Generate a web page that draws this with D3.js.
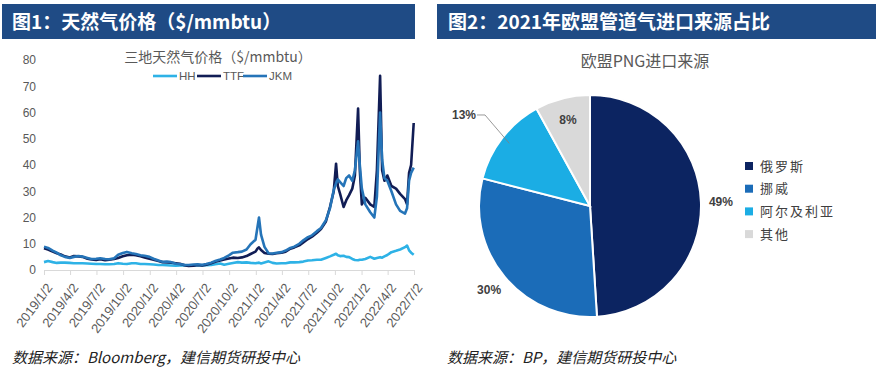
<!DOCTYPE html>
<html>
<head>
<meta charset="utf-8">
<script src="https://cdn.jsdelivr.net/npm/d3@7"></script>
<style>
  body { margin: 0; background: #fff; }
  svg { display: block; }
  text { font-family: "Noto Sans CJK SC", "Noto Sans", sans-serif; }
  .num { font-family: "Liberation Sans Narrow", "Liberation Sans", "DejaVu Sans Condensed", sans-serif; }
</style>
</head>
<body>
<svg id="chart" width="881" height="370"></svg>
<script>
const width = 881;
const height = 370;

// ---- data: gas prices ($/mmbtu) ----
const dates = [
  '2019-01-02','2019-01-16','2019-02-01','2019-02-15','2019-03-01','2019-03-15','2019-04-01','2019-04-15',
  '2019-05-01','2019-05-15','2019-06-01','2019-06-15','2019-07-01','2019-07-15','2019-08-01','2019-08-15',
  '2019-09-01','2019-09-15','2019-10-01','2019-10-15','2019-11-01','2019-11-15','2019-12-01','2019-12-15',
  '2020-01-01','2020-01-15','2020-02-01','2020-02-15','2020-03-01','2020-03-15','2020-04-01','2020-04-15',
  '2020-05-01','2020-05-15','2020-06-01','2020-06-15','2020-07-01','2020-07-15','2020-08-01','2020-08-15',
  '2020-09-01','2020-09-15','2020-10-01','2020-10-15','2020-11-01','2020-11-15','2020-12-01','2020-12-15',
  '2021-01-01','2021-01-08','2021-01-13','2021-01-20','2021-02-01','2021-02-15','2021-03-01','2021-03-15',
  '2021-04-01','2021-04-15','2021-05-01','2021-05-15','2021-06-01','2021-06-15','2021-07-01','2021-07-15',
  '2021-08-01','2021-08-15','2021-09-01','2021-09-15','2021-09-28','2021-10-06','2021-10-12','2021-10-20',
  '2021-11-01','2021-11-10','2021-11-20','2021-12-01','2021-12-10','2021-12-21','2021-12-27','2022-01-03',
  '2022-01-15','2022-02-01','2022-02-15','2022-02-24','2022-03-07','2022-03-14','2022-03-22','2022-04-01',
  '2022-04-15','2022-05-01','2022-05-15','2022-06-01','2022-06-08','2022-06-15','2022-06-22','2022-07-01'
];
const hh = [
  3.0,3.4,3.0,2.7,2.8,2.8,2.7,2.6, 2.6,2.6,2.5,2.4,2.3,2.3,2.2,2.2,
  2.3,2.6,2.4,2.3,2.6,2.6,2.3,2.3, 2.2,2.1,1.9,1.9,1.8,1.7,1.6,1.7,
  1.8,1.7,1.8,1.7,1.7,1.8,1.9,2.2, 2.5,2.0,2.4,2.7,3.0,2.8,2.9,2.7,
  2.6,2.7,2.8,2.5,2.9,3.3,2.7,2.5, 2.6,2.6,2.9,2.9,3.0,3.2,3.6,3.7,
  3.9,3.9,4.6,5.2,5.8,6.2,5.6,5.3, 5.4,5.0,4.9,4.2,3.8,3.7,3.9,3.9,
  4.2,5.0,4.3,4.6,4.9,4.7,5.2,5.7, 6.8,7.3,7.8,8.7,9.3,7.5,6.6,5.8
];
const ttf = [
  8.3,7.8,7.0,6.4,5.9,5.2,4.8,5.3, 5.2,5.0,4.3,4.0,3.8,4.1,3.7,3.9,
  4.2,4.6,5.2,5.6,5.8,5.6,5.2,4.8, 4.3,3.9,3.4,3.0,2.9,2.8,2.6,2.4,
  1.8,1.5,1.6,1.9,1.7,2.0,2.6,3.1, 3.6,4.0,4.4,4.7,4.6,4.8,5.3,6.1,
  7.0,8.2,8.6,7.6,6.5,6.2,6.1,6.4, 6.6,7.0,8.1,8.6,9.4,10.5,11.8,12.7,
  14.2,15.6,18.5,24.0,30.0,40.5,32.0,29.0, 24.0,26.5,28.5,31.0,36.0,61.5,38.0,25.0,
  27.5,25.0,24.0,38.0,74.0,38.0,34.0,36.0, 32.0,31.0,29.0,27.0,25.0,37.0,40.0,56.0
];
const jkm = [
  8.9,8.4,7.4,6.6,5.6,5.0,4.6,5.0, 5.3,5.1,4.6,4.2,4.3,4.5,4.2,4.1,
  4.5,5.8,6.5,6.9,6.4,6.1,5.6,5.4, 5.0,4.3,3.6,3.1,3.2,3.0,2.4,2.2,
  2.0,1.9,2.1,2.2,2.0,2.3,2.8,3.4, 4.0,4.6,5.6,6.6,6.8,7.0,7.8,9.8,
  11.5,16.5,20.0,13.5,8.8,6.4,6.3,6.6, 6.8,7.4,8.4,8.9,10.0,11.3,12.5,13.2,
  14.8,16.0,19.0,23.5,30.5,33.0,34.5,33.5, 32.0,35.0,36.0,34.0,38.0,49.0,40.0,31.0,
  25.0,22.0,20.0,28.0,60.0,42.0,35.0,34.0, 30.0,25.0,22.5,21.5,23.5,34.0,37.0,39.0
];
const seriesNames = ['HH', 'TTF', 'JKM'];
const seriesColors = ['#2eb2e6', '#111d55', '#2574b8'];
const xTickDates = ['2019-01-02','2019-04-02','2019-07-02','2019-10-02','2020-01-02','2020-04-02','2020-07-02',
  '2020-10-02','2021-01-02','2021-04-02','2021-07-02','2021-10-02','2022-01-02','2022-04-02','2022-07-02'];
const yTicks = [0, 10, 20, 30, 40, 50, 60, 70, 80];

// ---- data: EU pipeline gas import sources 2021 ----
const sources = ['俄罗斯', '挪威', '阿尔及利亚', '其他'];
const shares = [49, 30, 13, 8];
const pieColors = ['#0c2461', '#1b6cb8', '#1badE4', '#d9d9d9'];

const svg = d3.select('#chart');
const parse = d3.timeParse('%Y-%m-%d');

// ---- headers ----
svg.append('rect').attr('x', 2).attr('y', 4).attr('width', 413).attr('height', 35).attr('fill', '#1f4b85');
svg.append('rect').attr('x', 437).attr('y', 4).attr('width', 439).attr('height', 35).attr('fill', '#1f4b85');
svg.append('text').attr('x', 12).attr('y', 29).attr('fill', '#fff')
  .attr('font-size', 19).attr('font-weight', 'bold').text('图1：天然气价格（$/mmbtu）');
svg.append('text').attr('x', 448).attr('y', 29).attr('fill', '#fff')
  .attr('font-size', 19).attr('font-weight', 'bold').text('图2：2021年欧盟管道气进口来源占比');

// ---- line chart ----
const x = d3.scaleTime().domain([parse('2019-01-02'), parse('2022-07-02')]).range([44, 414]);
const y = d3.scaleLinear().domain([0, 80]).range([270, 60]);

const yAxis = svg.append('g').attr('transform', 'translate(44,0)')
  .call(d3.axisLeft(y).tickValues(yTicks).tickSize(0).tickPadding(8));
yAxis.select('.domain').remove();
yAxis.selectAll('text').attr('class', 'num').attr('fill', '#595959').attr('font-size', 12);

const xAxis = svg.append('g').attr('transform', 'translate(0,270)')
  .call(d3.axisBottom(x).tickValues(xTickDates.map(parse)).tickSize(5).tickSizeOuter(0)
    .tickFormat(d => `${d.getFullYear()}/${d.getMonth() + 1}/${d.getDate()}`));
xAxis.select('.domain').attr('stroke', '#d9d9d9');
xAxis.selectAll('.tick line').attr('stroke', '#d9d9d9');
xAxis.selectAll('text').attr('class', 'num').attr('fill', '#595959').attr('font-size', 13)
  .attr('text-anchor', 'end').attr('x', 0).attr('y', 0).attr('dy', '0.35em')
  .attr('transform', 'translate(5,15) rotate(-53)');

const allSeries = [hh, ttf, jkm];
const line = d3.line().x((d, i) => x(parse(dates[i]))).y(d => y(d));
allSeries.forEach((s, k) => {
  svg.append('path').datum(s)
    .attr('fill', 'none').attr('stroke', seriesColors[k]).attr('stroke-width', 2.6)
    .attr('stroke-linejoin', 'round').attr('d', line);
});

svg.append('text').attr('x', 218).attr('y', 62).attr('text-anchor', 'middle')
  .attr('fill', '#595959').attr('font-size', 14).text('三地天然气价格（$/mmbtu）');

const legendX = [153, 197, 243];
seriesNames.forEach((n, k) => {
  svg.append('line').attr('x1', legendX[k]).attr('x2', legendX[k] + 24).attr('y1', 76).attr('y2', 76)
    .attr('stroke', seriesColors[k]).attr('stroke-width', 2.6);
  svg.append('text').attr('class', 'num').attr('x', legendX[k] + 26).attr('y', 80)
    .attr('fill', '#595959').attr('font-size', 11.5).text(n);
});

svg.append('text').attr('x', 12).attr('y', 363).attr('fill', '#222').attr('font-size', 15)
  .attr('font-style', 'italic').text('数据来源：Bloomberg，建信期货研投中心');

// ---- pie chart ----
const cx = 590, cy = 206, r = 111;
const pie = d3.pie().sort(null).value(d => d)(shares);
const arc = d3.arc().innerRadius(0).outerRadius(r);
const pg = svg.append('g').attr('transform', `translate(${cx},${cy})`);
pg.selectAll('path').data(pie).join('path')
  .attr('d', arc).attr('fill', (d, i) => pieColors[i])
  .attr('stroke', '#fff').attr('stroke-width', 2);

// labels
const labelArc = d3.arc().innerRadius(r + 20).outerRadius(r + 20);
const innerArc = d3.arc().innerRadius(r * 0.8).outerRadius(r * 0.8);
pie.forEach((d, i) => {
  let p;
  if (i === 3) p = innerArc.centroid(d);
  else if (i === 2) p = [-r - 15, -r * 0.82];
  else p = labelArc.centroid(d);
  pg.append('text').attr('class', 'num').attr('x', p[0]).attr('y', p[1]).attr('dy', '0.35em')
    .attr('text-anchor', 'middle').attr('fill', '#404040').attr('font-size', 12).attr('font-weight', 'bold')
    .text(shares[i] + '%');
});
// leader line for 13%
const mid = (pie[2].startAngle + pie[2].endAngle) / 2;
const edge = [Math.sin(mid) * r * 0.92, -Math.cos(mid) * r * 0.92];
pg.append('polyline')
  .attr('points', `${-r - 2},${-r * 0.82} ${-r + 6},${-r * 0.82} ${edge[0]},${edge[1]}`)
  .attr('fill', 'none').attr('stroke', '#7f7f7f').attr('stroke-width', 0.8);

svg.append('text').attr('x', 645).attr('y', 67).attr('text-anchor', 'middle')
  .attr('fill', '#595959').attr('font-size', 16).text('欧盟PNG进口来源');

sources.forEach((s, i) => {
  const ly = 166 + i * 22.7;
  svg.append('rect').attr('x', 745).attr('y', ly - 4).attr('width', 8).attr('height', 8).attr('fill', pieColors[i]);
  svg.append('text').attr('x', 760).attr('y', ly).attr('dy', '0.35em').attr('fill', '#404040')
    .attr('font-size', 13).attr('letter-spacing', 2).text(s);
});

svg.append('text').attr('x', 447).attr('y', 363).attr('fill', '#222').attr('font-size', 15)
  .attr('font-style', 'italic').text('数据来源：BP，建信期货研投中心');
</script>
</body>
</html>
